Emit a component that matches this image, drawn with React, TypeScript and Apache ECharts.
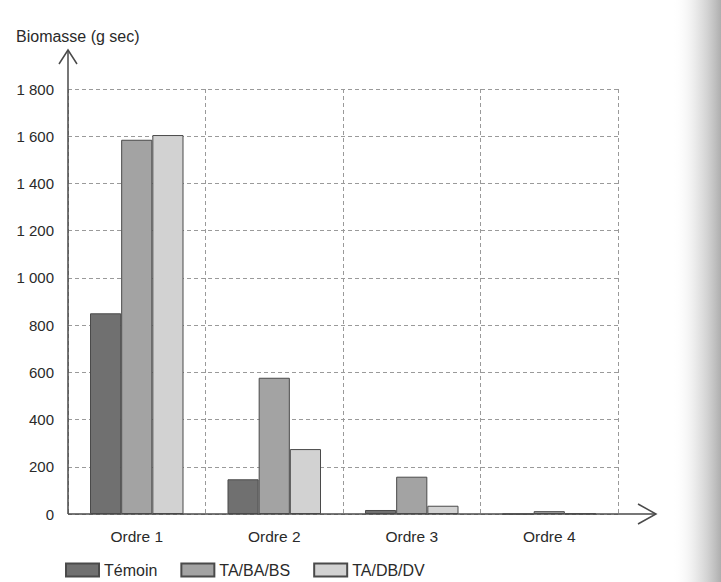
import React, { useEffect, useRef } from "react";
import * as echarts from "echarts";

const categories = ["Ordre 1", "Ordre 2", "Ordre 3", "Ordre 4"];
const seriesNames = ["Témoin", "TA/BA/BS", "TA/DB/DV"];
const temoin = [850, 147, 17, 0];
const tababs = [1585, 577, 158, 12];
const tadbdv = [1605, 275, 35, 2];
const seriesColors = ["#707070", "#a3a3a3", "#d2d2d2"];
const yTicks = [0, 200, 400, 600, 800, 1000, 1200, 1400, 1600, 1800];

const FONT = "'Liberation Sans', Arial, sans-serif";

export default function App() {
  const ref = useRef<HTMLDivElement>(null);
  useEffect(() => {
    if (!ref.current) return;
    const chart = echarts.init(ref.current, null, { renderer: "svg" });
    const values = [temoin, tababs, tadbdv];
    chart.setOption({
      animation: false,
      backgroundColor: "#ffffff",
      textStyle: { fontFamily: FONT },
      title: {
        text: "Biomasse (g sec)",
        left: 16,
        top: 28,
        padding: 0,
        textStyle: { fontSize: 16, fontWeight: "normal", color: "#2a2a2a", fontFamily: FONT },
      },
      legend: {
        data: seriesNames,
        left: 65,
        top: 562,
        padding: 0,
        icon: "rect",
        itemWidth: 33,
        itemHeight: 13,
        itemGap: 23,
        textStyle: { fontSize: 16, color: "#2a2a2a", fontFamily: FONT },
      },
      grid: { left: 68, top: 89, right: 103, bottom: 68, containLabel: false },
      xAxis: {
        type: "category",
        data: categories,
        axisLine: { show: false },
        axisTick: { show: false },
        axisLabel: { fontSize: 15.5, color: "#2a2a2a", margin: 14, fontFamily: FONT },
        splitLine: { show: true, lineStyle: { color: "#9a9a9a", type: [4, 3], width: 1 } },
      },
      yAxis: {
        type: "value",
        min: 0,
        max: yTicks[yTicks.length - 1],
        interval: 200,
        axisLine: { show: false },
        axisTick: { show: false },
        axisLabel: {
          fontSize: 15,
          color: "#2a2a2a",
          margin: 14,
          fontFamily: FONT,
          formatter: (v: number) =>
            v >= 1000 ? `${Math.floor(v / 1000)} ${String(v % 1000).padStart(3, "0")}` : String(v),
        },
        splitLine: { show: true, lineStyle: { color: "#9a9a9a", type: [4, 3], width: 1 } },
      },
      series: seriesNames.map((name, i) => ({
        name,
        type: "bar",
        data: values[i],
        barGap: "0%",
        barCategoryGap: "32%",
        itemStyle: { color: seriesColors[i], borderColor: "#4a4a4a", borderWidth: 1 },
      })),
      graphic: [
        {
          type: "rect",
          shape: { x: 672, y: 0, width: 49, height: 582 },
          style: {
            fill: new echarts.graphic.LinearGradient(0, 0, 1, 0, [
              { offset: 0, color: "rgba(255,255,255,0)" },
              { offset: 0.55, color: "rgba(205,205,205,0.55)" },
              { offset: 1, color: "rgba(170,170,170,0.95)" },
            ]),
          },
          silent: true,
          z: 0,
        },
        {
          type: "polyline",
          shape: { points: [[68, 514], [68, 50]] },
          style: { stroke: "#4a4a4a", lineWidth: 1.5, fill: "none" },
          z: 100,
        },
        {
          type: "polyline",
          shape: { points: [[59, 64], [68, 50], [77, 64]] },
          style: { stroke: "#4a4a4a", lineWidth: 1.5, fill: "none" },
          z: 100,
        },
        {
          type: "polyline",
          shape: { points: [[68, 514], [656, 514]] },
          style: { stroke: "#4a4a4a", lineWidth: 1.5, fill: "none" },
          z: 100,
        },
        {
          type: "polyline",
          shape: { points: [[638, 504], [656, 514], [638, 524]] },
          style: { stroke: "#4a4a4a", lineWidth: 1.5, fill: "none" },
          z: 100,
        },
      ],
    });
    return () => chart.dispose();
  }, []);
  return (
    <div
      ref={ref}
      style={{ position: "fixed", left: 0, top: 0, width: 721, height: 582 }}
    />
  );
}
